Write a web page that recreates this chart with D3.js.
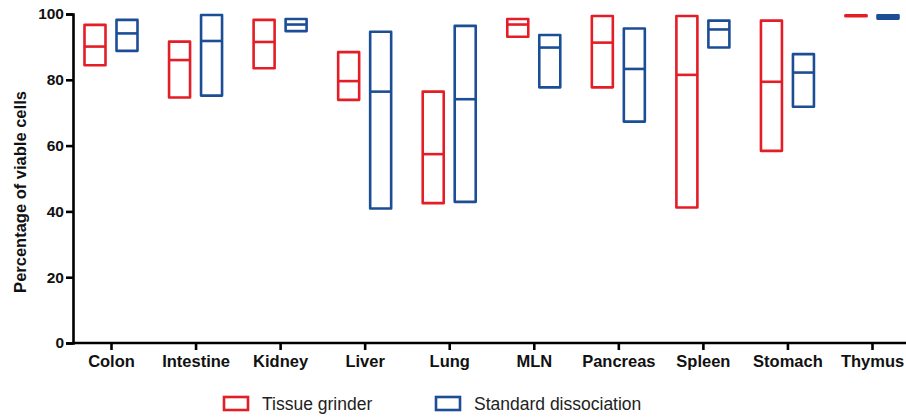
<!DOCTYPE html>
<html>
<head>
<meta charset="utf-8">
<script src="https://cdn.jsdelivr.net/npm/d3@7"></script>
<style>
  body { margin: 0; background: #fff; }
  svg { display: block; font-family: "Liberation Sans", Arial, sans-serif; }
</style>
</head>
<body>
<div id="chart"></div>
<script>
const categories = ["Colon", "Intestine", "Kidney", "Liver", "Lung", "MLN", "Pancreas", "Spleen", "Stomach", "Thymus"];

// Tissue grinder: min / median / max
const grinderMin    = [84.4, 74.6, 83.5, 73.9, 42.5, 93.1, 77.7, 41.2, 58.4, 99.3];
const grinderMedian = [90.1, 86.0, 91.5, 79.6, 57.4, 96.8, 91.3, 81.5, 79.4, 99.5];
const grinderMax    = [96.7, 91.6, 98.2, 88.4, 76.4, 98.5, 99.4, 99.4, 98.0, 99.6];

// Standard dissociation: min / median / max
const stdMin    = [88.8, 75.2, 94.8, 40.9, 42.9, 77.7, 67.3, 89.8, 71.8, 98.6];
const stdMedian = [94.1, 91.8, 96.8, 76.4, 74.1, 89.8, 83.3, 95.3, 82.2, 99.0];
const stdMax    = [98.2, 99.7, 98.5, 94.6, 96.4, 93.6, 95.6, 98.0, 87.8, 99.6];

const yTicks = [0, 20, 40, 60, 80, 100];
const seriesNames = ["Tissue grinder", "Standard dissociation"];
const seriesColors = ["#e31e26", "#1c4e96"];

const width = 906, height = 417;
const svg = d3.select("#chart").append("svg")
  .attr("width", width)
  .attr("height", height);

const y = d3.scaleLinear().domain([0, 100]).range([343, 14]);
const x = d3.scalePoint().domain(categories).range([111, 872]);
const xSub = d3.scalePoint().domain(seriesNames).range([-16, 16]);
const barW = 21;

const series = [
  { name: seriesNames[0], min: grinderMin, med: grinderMedian, max: grinderMax },
  { name: seriesNames[1], min: stdMin, med: stdMedian, max: stdMax }
];

// boxes
series.forEach((s, si) => {
  const rows = categories.map((c, i) => ({ c, min: s.min[i], med: s.med[i], max: s.max[i] }));
  const g = svg.append("g")
    .attr("fill", "none")
    .attr("stroke", seriesColors[si])
    .attr("stroke-width", 2.6)
    .attr("stroke-linejoin", "round");

  g.selectAll("rect")
    .data(rows)
    .enter()
    .append("rect")
    .attr("x", d => x(d.c) + xSub(s.name) - barW / 2)
    .attr("y", d => y(d.max))
    .attr("width", barW)
    .attr("height", d => y(d.min) - y(d.max));

  g.selectAll("line")
    .data(rows)
    .enter()
    .append("line")
    .attr("x1", d => x(d.c) + xSub(s.name) - barW / 2)
    .attr("x2", d => x(d.c) + xSub(s.name) + barW / 2)
    .attr("y1", d => y(d.med))
    .attr("y2", d => y(d.med));
});

// y axis
const yAxis = svg.append("g")
  .attr("transform", "translate(73,0)")
  .call(d3.axisLeft(y).tickValues(yTicks).tickSize(7).tickPadding(2));
yAxis.select(".domain").attr("stroke", "#000").attr("stroke-width", 2.6);
yAxis.selectAll(".tick line").attr("stroke", "#000").attr("stroke-width", 2.6);
yAxis.selectAll(".tick text")
  .attr("font-size", 15.5)
  .attr("font-weight", "bold")
  .attr("fill", "#111")
  .attr("font-family", "Liberation Sans, Arial, sans-serif");

// x axis
const xAxis = svg.append("g")
  .attr("transform", "translate(0,343)")
  .call(d3.axisBottom(x).tickSize(7).tickPadding(5));
xAxis.select(".domain").attr("d", "M73,0H906").attr("stroke", "#000").attr("stroke-width", 2.6);
xAxis.selectAll(".tick line").attr("stroke", "#000").attr("stroke-width", 2.6);
xAxis.selectAll(".tick text")
  .attr("font-size", 16.5)
  .attr("font-weight", "bold")
  .attr("fill", "#111")
  .attr("font-family", "Liberation Sans, Arial, sans-serif");

// y label
svg.append("text")
  .attr("transform", "translate(26,192) rotate(-90)")
  .attr("text-anchor", "middle")
  .attr("font-size", 16.5)
  .attr("font-weight", "bold")
  .attr("fill", "#111")
  .text("Percentage of viable cells");

// legend
const legendX = [224, 436];
const legend = svg.append("g");
seriesNames.forEach((n, i) => {
  legend.append("rect")
    .attr("x", legendX[i])
    .attr("y", 397)
    .attr("width", 24)
    .attr("height", 13)
    .attr("fill", "none")
    .attr("stroke", seriesColors[i])
    .attr("stroke-width", 2.6);
  legend.append("text")
    .attr("x", legendX[i] + 38)
    .attr("y", 410)
    .attr("font-size", 17.5)
    .attr("fill", "#222")
    .text(n);
});
</script>
</body>
</html>
